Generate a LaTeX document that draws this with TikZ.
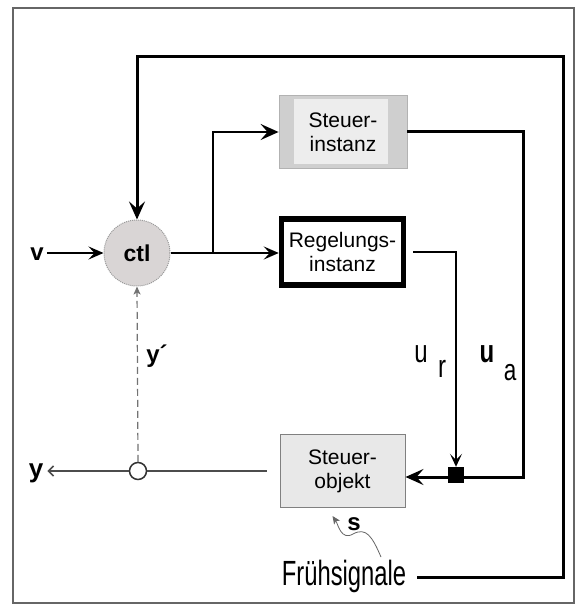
\documentclass[tikz,border=0pt]{standalone}
\usepackage{fontspec}
\setmainfont{Liberation Sans}
\newfontfamily\condfont[FakeStretch=0.68]{Liberation Sans}
\newfontfamily\labcond[FakeStretch=0.75]{Liberation Sans}
\usetikzlibrary{arrows.meta}
\definecolor{ctlgray}{HTML}{D9D5D5}
\definecolor{siout}{HTML}{CFCFCF}
\definecolor{siin}{HTML}{EDEDED}
\definecolor{sofill}{HTML}{E8E8E8}
\begin{document}
\begin{tikzpicture}[x=1pt,y=-1pt,
  boxtext/.style={font=\fontsize{21}{24}\selectfont,align=center,inner sep=0pt},
  ctlnode/.style={circle,minimum size=66pt,fill=ctlgray,draw=black!40,densely dotted,line width=1pt,font=\bfseries\fontsize{23}{24}\selectfont,inner sep=0pt},
  sibox/.style={boxtext,rectangle,minimum width=128pt,minimum height=73pt,fill=siout,draw=black!30,line width=0.8pt,
    path picture={\fill[siin] ([shift={(15pt,-4pt)}]path picture bounding box.north west) rectangle ([shift={(-19pt,4pt)}]path picture bounding box.south east);}},
  ribox/.style={boxtext,rectangle,minimum width=122pt,minimum height=66pt,fill=white,draw=black,line width=5.5pt},
  sobox/.style={boxtext,rectangle,minimum width=125pt,minimum height=73pt,fill=sofill,draw=black!50,line width=1pt},
  sqnode/.style={rectangle,minimum size=16pt,inner sep=0pt,fill=black},
  ocnode/.style={circle,minimum size=17pt,inner sep=0pt,draw=black!80,line width=1.5pt,fill=white},
  lab/.style={inner sep=0pt,anchor=base,font=\bfseries\fontsize{24}{24}\selectfont},
  mainline/.style={line width=3pt,line join=miter},
  medline/.style={line width=2.2pt},
  thinline/.style={line width=1.5pt},
  outline/.style={line width=2pt,draw=black!70},
  bigtip/.style={-{Stealth[length=18pt,width=16pt,inset=7pt]}},
  medtip/.style={-{Stealth[length=15pt,width=13pt,inset=6pt]}},
  smalltip/.style={-{Stealth[length=13pt,width=12pt,inset=6pt]}},
  barbtip/.style={-{Straight Barb[length=5pt,width=10pt,line width=1.6pt]}},
  tinytip/.style={-{Stealth[length=8pt,width=7pt,inset=2pt]}}
]
\useasboundingbox (0,0) rectangle (576,612);
\fill[white] (0,0) rectangle (576,612);
\draw[black!60,line width=1.2pt] (13,8) rectangle (574,603);

% nodes
\node[ctlnode] (ctl) at (137,253) {ctl};
\node[sibox] (si) at (343,132) {Steuer-\\instanz};
\node[ribox] (ri) at (342.5,252) {Regelungs-\\instanz};
\node[sobox] (so) at (342.5,471) {Steuer-\\objekt};
\node[sqnode] (sq) at (456,475) {};
\node[ocnode] (oc) at (138,471) {};

\node[lab] (v) at (37,260) {v};
\node[lab,font=\bfseries\fontsize{26}{26}\selectfont] (y) at (36,477) {y};
\node[lab] (yp) at (157,362) {y´};
\node[lab] (s) at (354,530) {s};
\node[inner sep=0pt,anchor=base,font=\labcond\fontsize{32}{32}\selectfont] (u1) at (421,362) {u};
\node[inner sep=0pt,anchor=base,font=\labcond\fontsize{32}{32}\selectfont] (r1) at (442,377) {r};
\node[inner sep=0pt,anchor=base,font=\labcond\bfseries\fontsize{32}{32}\selectfont] (u2) at (487,362) {u};
\node[inner sep=0pt,anchor=base,font=\labcond\fontsize{30}{30}\selectfont] (a2) at (510,380) {a};
\node[inner sep=0pt,anchor=base,font=\condfont\fontsize{35}{36}\selectfont] (fs) at (344,585) {Frühsignale};

\coordinate (br) at (213,253);
\coordinate (c1) at (523,477);
\coordinate (c2) at (563,577);
\coordinate (c3) at (563,57);
\coordinate (sstart) at (381,557);
\coordinate (stip) at ([shift={(-10pt,-8pt)}]so.south);

% connectors
\draw[medline,medtip] ([xshift=3pt]v.east |- ctl.west) -- (ctl.west);
\draw[medline,medtip] (ctl.east) -- (ctl.east -| ri.west);
\draw[medline,bigtip] (br) |- (si.west);
\draw[mainline] (si.east) -| (c1) -- (sq.center |- c1);
\draw[mainline,bigtip] (sq.west |- c1) -- (so.east |- c1);
\draw[thinline,smalltip] ([xshift=7pt]ri.east) -| (sq.north);
\draw[outline] ([xshift=-13pt]so.west |- oc) -- (oc.east);
\draw[outline,barbtip] (oc.west) -- ([xshift=4pt]y.east |- oc);
\draw[black!55,line width=1.2pt,dashed,dash pattern=on 7pt off 4pt,tinytip] (oc.north) -- (ctl.south);
\draw[mainline,bigtip] ([xshift=11pt]fs.east |- c2) -- (c2) -- (c3) -- (ctl.north |- c3) -- (ctl.north);
\draw[black!60,line width=0.8pt,tinytip] (sstart) .. controls (372,536) and (366,527) .. (353,534) .. controls (341,541) and (338,524) .. (stip);
\end{tikzpicture}
\end{document}
